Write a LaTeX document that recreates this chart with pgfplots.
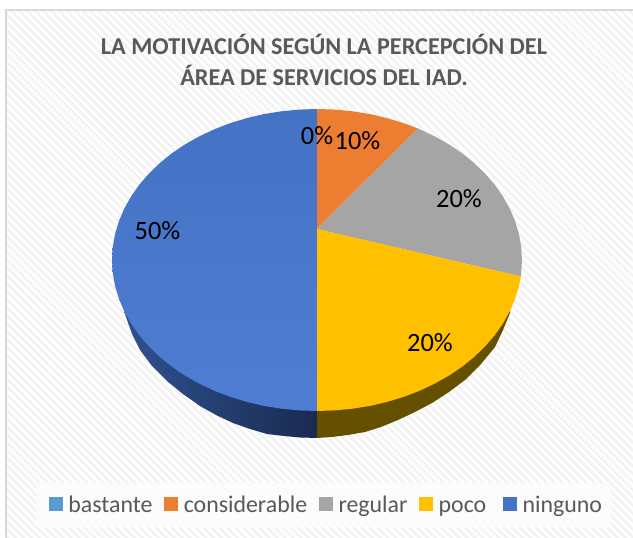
\documentclass[border=0pt]{standalone}
\usepackage{fontspec}
\setmainfont{Carlito}
\usepackage{pgfplots}
\pgfplotsset{compat=1.18}
\usetikzlibrary{patterns.meta}
\definecolor{cOrange}{HTML}{ED7D31}
\definecolor{cGray}{HTML}{A5A5A5}
\definecolor{cYellow}{HTML}{FFC000}
\definecolor{cBlue}{HTML}{4472C4}
\definecolor{cBlueB}{HTML}{4E7DD3}
\definecolor{cLight}{HTML}{5B9BD5}
\definecolor{cText}{HTML}{595959}
\definecolor{cHatch}{HTML}{F3F3F3}
\definecolor{cFrame}{HTML}{D9D9D9}
\definecolor{cLegend}{HTML}{FCFCFC}
\definecolor{cSideA}{HTML}{2E5290}
\definecolor{cSideB}{HTML}{1A2A50}
\definecolor{cSideY}{HTML}{655000}
\tikzset{lab/.style={inner sep=0pt, text=black, font=\fontsize{19.8pt}{22pt}\selectfont}}
\begin{document}
\begin{tikzpicture}
\begin{axis}[
  at={(0pt,0pt)}, anchor=south west,
  scale only axis, width=474.75pt, height=403.5pt,
  xmin=0, xmax=633, ymin=0, ymax=538, y dir=reverse,
  hide axis, clip=true,
  legend columns=-1,
  legend image code/.code={\path[#1] (0pt,-3.25pt) rectangle (10.5pt,7.25pt);},
  legend style={at={(axis cs:49,507)}, anchor=west, draw=none, fill=none,
    inner sep=0pt, outer sep=0pt, text=cText, font=\fontsize{17.9pt}{20pt}\selectfont,
    nodes={inner sep=0pt, text height=12.5pt, text depth=3.5pt},
    /tikz/every even column/.append style={column sep=9pt},
    /tikz/every odd column/.append style={column sep=4pt}},
]
% background
\addplot[draw=none, fill=white, forget plot] coordinates {(0,0)(633,0)(633,538)(0,538)} --cycle;
\addplot[draw=none, pattern={Lines[angle=-45,distance=4.2pt,line width=2pt]}, pattern color=cHatch, forget plot] coordinates {(5,10)(633,10)(633,538)(5,538)} --cycle;
\addplot[color=cFrame, line width=1.5pt, forget plot] coordinates {(5.5,538)(5.5,10.5)(633,10.5)};
% legend box
\addplot[draw=none, fill=cLegend, forget plot] coordinates {(37,483)(610,483)(610,527)(37,527)} --cycle;
% sides
\addplot[draw=none, left color=cSideA, right color=cSideB, forget plot] coordinates {(124.4,311.6)(126,317)(132,334)(140,350)(152,366)(167,381)(183,394)(200,406)(216,415)(233,423)(250,429)(267,434)(284,436)(300,437.5)(317.5,438)(317.5,300)} --cycle;
\addplot[draw=none, fill=cSideY, forget plot] coordinates {(317,300)(317,438)(332,437)(348,435)(365,432)(381,427)(398,420)(415,412)(432,403)(449,392)(465,380)(481,364)(495,347)(503,330)(510,313)(511,300)} --cycle;
% pie top
% ninguno 50
\addplot[draw=none, top color=cBlue, bottom color=cBlueB, forget plot] coordinates {(317.3,229)(317.3,411)(299.1,410.4)(281.4,408.7)(263.9,405.9)(246.9,401.9)(230.4,396.9)(214.5,390.8)(199.4,383.7)(185.2,375.7)(172,366.8)(160,357.1)(149.1,346.6)(139.5,335.5)(131.2,323.8)(124.4,311.6)(119,299.1)(115.1,286.2)(112.8,273.2)(112,260)(112.8,246.8)(115.1,233.8)(119,220.9)(124.4,208.4)(131.2,196.2)(139.5,184.5)(149.1,173.4)(160,162.9)(172,153.2)(185.2,144.3)(199.4,136.3)(214.5,129.2)(230.4,123.1)(246.9,118.1)(263.9,114.1)(281.4,111.3)(299.1,109.6)(317.3,109)} --cycle;
% considerable 10
\addplot[draw=none, fill=cOrange, forget plot] coordinates {(317,229)(317,109)(334.9,109.6)(352.6,111.3)(370.1,114.1)(387.1,118.1)(403.6,123.1)(418,128.5)} --cycle;
% regular 20
\addplot[draw=none, fill=cGray, forget plot] coordinates {(317,229)(418,128.5)(434.6,136.3)(448.8,144.3)(462,153.2)(474,162.9)(484.9,173.4)(494.5,184.5)(502.8,196.2)(509.6,208.4)(515,220.9)(518.9,233.8)(521.2,246.8)(522,260)(520.9,276.5)} --cycle;
% poco 20
\addplot[draw=none, fill=cYellow, forget plot] coordinates {(317,229)(520.9,276.5)(518.9,286.2)(515,299.1)(509.6,311.6)(502.8,323.8)(494.5,335.5)(484.9,346.6)(474,357.1)(462,366.8)(448.8,375.7)(434.6,383.7)(419.5,390.8)(403.6,396.9)(387.1,401.9)(370.1,405.9)(352.6,408.7)(334.9,410.4)(317,411)} --cycle;
% legend
\addlegendimage{draw=none, fill=cLight}
\addlegendentry{bastante}
\addlegendimage{draw=none, fill=cOrange}
\addlegendentry{considerable}
\addlegendimage{draw=none, fill=cGray}
\addlegendentry{regular}
\addlegendimage{draw=none, fill=cYellow}
\addlegendentry{poco\rule{3.75pt}{0pt}}
\addlegendimage{draw=none, fill=cBlue}
\addlegendentry{ninguno}
% data labels
\node[lab] at (axis cs:317,136) {0\%};
\node[lab] at (axis cs:357.5,141) {10\%};
\node[lab] at (axis cs:459,199) {20\%};
\node[lab] at (axis cs:157.5,231) {50\%};
\node[lab] at (axis cs:430,343) {20\%};
% title
\node[text=cText, align=center, inner sep=0pt, font=\fontsize{18.15pt}{22.9pt}\selectfont\bfseries] at (axis cs:324,60) {LA MOTIVACIÓN SEGÚN LA PERCEPCIÓN DEL\\ÁREA DE SERVICIOS DEL IAD.};
\end{axis}
\end{tikzpicture}
\end{document}
